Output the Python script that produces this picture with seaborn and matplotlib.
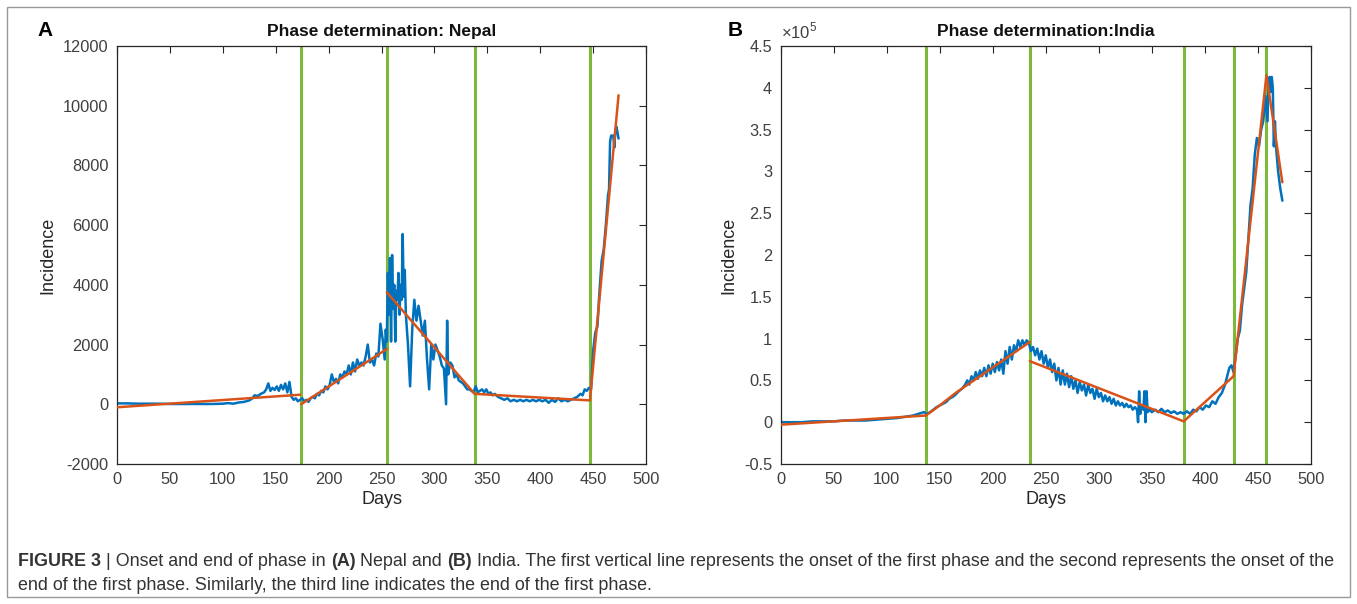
#!/usr/bin/env python3
"""Phase determination figure: Nepal and India incidence with piecewise fits."""

import matplotlib

matplotlib.use("Agg")

import matplotlib.pyplot as plt
import numpy as np
import pandas as pd
import seaborn as sns

BLUE = "#0072BD"
ORANGE = "#D95319"
GREEN = "#7CB93A"
INK = "#262626"

# ---- Nepal: daily incidence ----
NEPAL_DAYS = [
    0, 10, 20, 30, 40, 50, 60, 70, 80, 90, 100, 105, 110, 115, 120, 125, 128, 130, 133, 136,
    139, 141, 143, 145, 147, 149, 151, 153, 155, 157, 159, 161, 163, 165, 167, 169, 171, 173, 175, 177,
    179, 181, 183, 185, 187, 189, 191, 193, 195, 197, 199, 201, 203, 205, 207, 209, 211, 213, 215, 217,
    219, 221, 223, 225, 227, 229, 231, 233, 235, 237, 239, 241, 243, 245, 247, 249, 251, 253, 254, 255,
    256, 257, 258, 259, 260, 261, 262, 263, 264, 265, 266, 267, 268, 269, 270, 271, 272, 273, 275, 277,
    279, 281, 283, 285, 287, 289, 291, 293, 295, 297, 299, 301, 303, 305, 307, 309, 311, 312, 313, 315,
    317, 319, 321, 323, 325, 327, 329, 331, 333, 335, 337, 339, 341, 343, 345, 347, 349, 351, 353, 355,
    357, 360, 363, 366, 369, 372, 375, 378, 381, 384, 387, 390, 393, 396, 399, 402, 405, 408, 411, 414,
    417, 420, 423, 426, 429, 432, 435, 438, 440, 442, 444, 446, 448, 450, 452, 454, 456, 458, 460, 462,
    464, 465, 466, 467, 469, 470, 471, 472, 473, 474,
]
NEPAL_CASES = [
    30, 30, 20, 20, 20, 10, 10, 10, 10, 10, 20, 40, 20, 60, 80, 130, 200, 300, 280, 350,
    400, 500, 700, 450, 550, 480, 600, 450, 650, 500, 700, 400, 750, 250, 150, 200, 100, 150, 200, 100,
    150, 80, 200, 250, 200, 350, 300, 450, 400, 600, 500, 650, 1000, 750, 850, 700, 1000, 900, 1100, 1000,
    1300, 1000, 1400, 1100, 1500, 1300, 1400, 1300, 1600, 2000, 1400, 1500, 1300, 1700, 1600, 2700, 2200, 1500, 2500, 2100,
    4400, 3000, 4900, 2100, 5000, 3200, 4000, 2100, 3800, 3500, 4400, 3000, 4000, 3500, 5700, 3600, 4500, 3000, 2000, 600,
    2500, 3500, 2800, 3300, 2800, 2300, 2800, 1500, 500, 2000, 1500, 2000, 1800, 1600, 1300, 1200, 0, 2800, 1000, 1400,
    1300, 900, 1000, 800, 750, 700, 600, 500, 500, 450, 400, 600, 400, 450, 500, 400, 500, 350, 400, 300,
    350, 250, 200, 150, 200, 100, 150, 100, 150, 100, 150, 100, 150, 100, 150, 100, 150, 50, 150, 80,
    200, 100, 150, 100, 150, 200, 250, 350, 300, 500, 450, 550, 500, 1800, 2400, 2600, 3800, 4800, 5200, 6000,
    7000, 7200, 8800, 9000, 9000, 8600, 9200, 9300, 9100, 8900,
]
NEPAL_FIT_DAYS = [0, 173, 174, 255, 255, 338, 338, 447, 447, 474]
NEPAL_FIT_CASES = [-100, 320, 0, 1850, 3750, 350, 350, 130, 150, 10350]
NEPAL_FIT_SEG = [0, 0, 1, 1, 2, 2, 3, 3, 4, 4]
NEPAL_BREAKS = [174, 255, 338, 447]

# ---- India: daily incidence in units of 1e5 ----
INDIA_DAYS = [
    0, 10, 20, 30, 40, 50, 60, 70, 80, 90, 100, 110, 120, 125, 130, 135, 138, 141, 144, 147,
    150, 153, 156, 159, 162, 165, 168, 171, 174, 176, 178, 180, 182, 184, 186, 188, 190, 192, 194, 196,
    198, 200, 202, 204, 206, 208, 210, 212, 214, 216, 218, 220, 222, 224, 226, 228, 230, 232, 234, 236,
    238, 240, 242, 244, 246, 248, 250, 252, 254, 256, 258, 260, 262, 264, 266, 268, 270, 272, 274, 276,
    278, 280, 282, 284, 286, 288, 290, 292, 294, 296, 298, 300, 302, 304, 306, 308, 310, 312, 314, 316,
    318, 320, 322, 324, 326, 328, 330, 332, 334, 336, 337, 338, 339, 340, 342, 343, 344, 345, 346, 348,
    350, 353, 356, 359, 362, 365, 368, 371, 374, 377, 380, 383, 386, 389, 392, 395, 398, 401, 404, 407,
    410, 413, 416, 419, 421, 423, 425, 427, 429, 431, 433, 435, 437, 439, 441, 443, 445, 447, 449, 451,
    453, 455, 457, 459, 460, 461, 462, 463, 464, 465, 466, 467, 469, 471, 473,
]
INDIA_CASES = [
    0.00, 0.00, 0.00, 0.01, 0.01, 0.01, 0.02, 0.02, 0.02, 0.03, 0.04, 0.05, 0.07, 0.08, 0.10, 0.12, 0.10, 0.12, 0.15, 0.18,
    0.20, 0.22, 0.24, 0.28, 0.30, 0.33, 0.37, 0.40, 0.45, 0.50, 0.45, 0.55, 0.50, 0.60, 0.52, 0.62, 0.55, 0.65, 0.55, 0.68,
    0.58, 0.70, 0.60, 0.72, 0.62, 0.75, 0.58, 0.85, 0.70, 0.90, 0.75, 0.92, 0.85, 0.98, 0.90, 0.98, 0.92, 0.98, 0.95, 0.85,
    0.90, 0.80, 0.88, 0.75, 0.85, 0.70, 0.80, 0.65, 0.75, 0.60, 0.70, 0.50, 0.65, 0.45, 0.62, 0.45, 0.58, 0.42, 0.55, 0.40,
    0.50, 0.35, 0.48, 0.38, 0.45, 0.32, 0.45, 0.35, 0.40, 0.28, 0.40, 0.30, 0.35, 0.25, 0.32, 0.25, 0.30, 0.22, 0.28, 0.20,
    0.25, 0.20, 0.23, 0.18, 0.22, 0.18, 0.20, 0.15, 0.18, 0.15, 0.00, 0.37, 0.10, 0.20, 0.15, 0.37, 0.00, 0.37, 0.12, 0.15,
    0.12, 0.15, 0.12, 0.16, 0.12, 0.14, 0.11, 0.13, 0.10, 0.12, 0.10, 0.13, 0.10, 0.15, 0.13, 0.18, 0.15, 0.20, 0.18, 0.25,
    0.22, 0.30, 0.35, 0.45, 0.55, 0.65, 0.68, 0.60, 0.80, 1.00, 1.10, 1.40, 1.60, 1.80, 2.20, 2.60, 2.80, 3.20, 3.40, 3.30,
    3.50, 3.60, 3.90, 3.60, 4.10, 4.13, 3.95, 4.13, 4.00, 3.30, 3.60, 3.30, 3.00, 2.80, 2.65,
]
INDIA_FIT_DAYS = [0, 137, 150, 165, 235, 235, 380, 427, 458, 473]
INDIA_FIT_CASES = [-0.03, 0.08, 0.20, 0.35, 0.96, 0.73, 0.01, 0.55, 4.15, 2.87]
INDIA_FIT_SEG = [0, 0, 0, 0, 0, 1, 1, 1, 1, 1]
INDIA_BREAKS = [137, 235, 380, 427, 458]

FONT = ["Liberation Sans", "DejaVu Sans"]


def draw_panel(ax, days, cases, fit_days, fit_cases, fit_seg, breaks, ylim, yticks, yticklabels, title):
    raw = pd.DataFrame({"day": days, "cases": cases})
    fit = pd.DataFrame({"day": fit_days, "cases": fit_cases, "seg": fit_seg})
    for b in breaks:
        ax.axvline(b, color=GREEN, linewidth=2.2, zorder=1)
    sns.lineplot(data=raw, x="day", y="cases", ax=ax, color=BLUE, linewidth=1.8, zorder=2)
    sns.lineplot(data=fit, x="day", y="cases", units="seg", estimator=None, ax=ax,
                 color=ORANGE, linewidth=1.8, zorder=3)
    ax.set_xlim(0, 500)
    ax.set_ylim(*ylim)
    ax.set_xticks(range(0, 501, 50))
    ax.set_yticks(yticks)
    ax.set_yticklabels(yticklabels)
    ax.tick_params(direction="in", top=True, right=True, length=5, width=0.8,
                   colors=INK, labelcolor="#404040", labelsize=11.8, pad=6)
    for spine in ax.spines.values():
        spine.set_visible(True)
        spine.set_color(INK)
        spine.set_linewidth(0.9)
    ax.set_xlabel("Days", fontsize=13, color=INK, labelpad=3)
    ax.set_ylabel("Incidence", fontsize=13, color=INK, labelpad=5)
    ax.set_title(title, fontsize=12.5, fontweight="bold", color="#111111", pad=7)


def draw_rich_line(fig, x, y, parts, size):
    renderer = fig.canvas.get_renderer()
    for text, weight in parts:
        t = fig.text(x, y, text, fontsize=size, fontweight=weight, color="#333333",
                     ha="left", va="center", family=FONT)
        bb = t.get_window_extent(renderer=renderer)
        x += bb.width / fig.bbox.width


def main() -> None:
    sns.set_theme(style="white")
    plt.rcParams["font.family"] = FONT
    plt.rcParams["mathtext.fontset"] = "custom"
    plt.rcParams["mathtext.rm"] = "Liberation Sans"

    fig = plt.figure(figsize=(13.57, 6.04), dpi=100)
    ax_a = fig.add_axes([0.0862, 0.2318, 0.3899, 0.692])
    ax_b = fig.add_axes([0.5752, 0.2318, 0.3909, 0.692])

    nepal_ticks = list(range(-2000, 12001, 2000))
    draw_panel(ax_a, NEPAL_DAYS, NEPAL_CASES, NEPAL_FIT_DAYS, NEPAL_FIT_CASES, NEPAL_FIT_SEG,
               NEPAL_BREAKS, (-2000, 12000), nepal_ticks, [str(t) for t in nepal_ticks],
               "Phase determination: Nepal")

    india_ticks = [-0.5, 0, 0.5, 1, 1.5, 2, 2.5, 3, 3.5, 4, 4.5]
    draw_panel(ax_b, INDIA_DAYS, INDIA_CASES, INDIA_FIT_DAYS, INDIA_FIT_CASES, INDIA_FIT_SEG,
               INDIA_BREAKS, (-0.5, 4.5), india_ticks, [f"{t:g}" for t in india_ticks],
               "Phase determination:India")
    ax_b.text(0.0, 1.012, r"$\times10^{5}$", transform=ax_b.transAxes, fontsize=12,
              color="#404040", ha="left", va="bottom")

    fig.text(45 / 1357, 1 - 30 / 604, "A", fontsize=15, fontweight="bold", color="black",
             ha="center", va="center")
    fig.text(735 / 1357, 1 - 30 / 604, "B", fontsize=15, fontweight="bold", color="black",
             ha="center", va="center")

    # outer frame around figure and caption
    fig.add_artist(plt.Rectangle((7 / 1357, 7 / 604), 1343 / 1357, 590 / 604, fill=False,
                                 edgecolor="#999999", linewidth=1.0, transform=fig.transFigure))

    line1 = [
        ("FIGURE 3", "bold"), (" | Onset and end of phase in ", "normal"), ("(A)", "bold"),
        (" Nepal and ", "normal"), ("(B)", "bold"),
        (" India. The first vertical line represents the onset of the first phase and the second "
         "represents the onset of the", "normal"),
    ]
    line2 = [("end of the first phase. Similarly, the third line indicates the end of the first phase.", "normal")]
    draw_rich_line(fig, 18 / 1357, 1 - 561 / 604, line1, 12.9)
    draw_rich_line(fig, 18 / 1357, 1 - 586 / 604, line2, 12.9)

    fig.savefig("out.png", dpi=100, facecolor="white")
    plt.close(fig)


if __name__ == "__main__":
    main()
